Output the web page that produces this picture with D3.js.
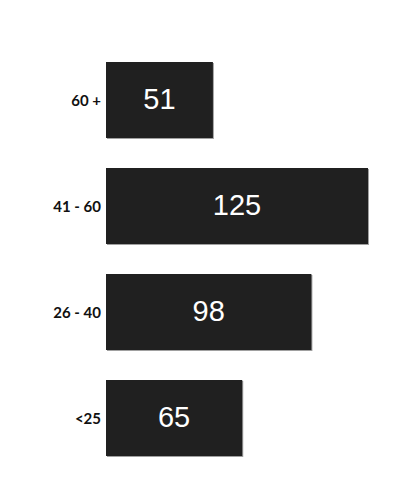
<!DOCTYPE html>
<html>
<head>
<meta charset="utf-8">
<script src="https://cdn.jsdelivr.net/npm/d3@7"></script>
<style>
  html, body { margin: 0; padding: 0; background: #fff; }
  svg { display: block; }
</style>
</head>
<body>
<svg id="chart" width="416" height="486"></svg>
<script>
const categories = ["60 +", "41 - 60", "26 - 40", "<25"];
const values = [51, 125, 98, 65];

const svg = d3.select("#chart");
const margin = { left: 106, top: 62 };
const x = d3.scaleLinear().domain([0, 125]).range([0, 262]);
const y = d3.scaleBand().domain(categories).range([margin.top, 456]).paddingInner(0.283).paddingOuter(0);

const data = categories.map((c, i) => ({ c, v: values[i] }));

const g = svg.append("g");

// shadow
g.selectAll("rect.shadow").data(data).join("rect")
  .attr("class", "shadow")
  .attr("x", margin.left + 1)
  .attr("y", d => y(d.c) + 1)
  .attr("width", d => x(d.v))
  .attr("height", y.bandwidth())
  .attr("fill", "#a0a0a0");

g.selectAll("rect.bar").data(data).join("rect")
  .attr("class", "bar")
  .attr("x", margin.left)
  .attr("y", d => y(d.c))
  .attr("width", d => x(d.v))
  .attr("height", y.bandwidth())
  .attr("fill", "#202020");

g.selectAll("text.val").data(data).join("text")
  .attr("class", "val")
  .attr("x", d => margin.left + x(d.v) / 2)
  .attr("y", d => y(d.c) + y.bandwidth() / 2 + 9)
  .attr("text-anchor", "middle")
  .attr("fill", "#fff")
  .style("font-family", "Liberation Sans, Arial, sans-serif")
  .style("font-size", "29px")
  .text(d => d.v);

// category axis labels
const axis = d3.axisLeft(y).tickSize(0).tickPadding(5);
const ax = svg.append("g").attr("transform", `translate(${margin.left},0)`).call(axis);
ax.select(".domain").remove();
ax.selectAll("text")
  .attr("dy", null)
  .attr("dominant-baseline", "auto")
  .attr("y", 6)
  .attr("fill", "#111")
  .style("font-family", "Lato, sans-serif")
  .style("font-weight", "bold")
  .style("font-size", "15px");
</script>
</body>
</html>
